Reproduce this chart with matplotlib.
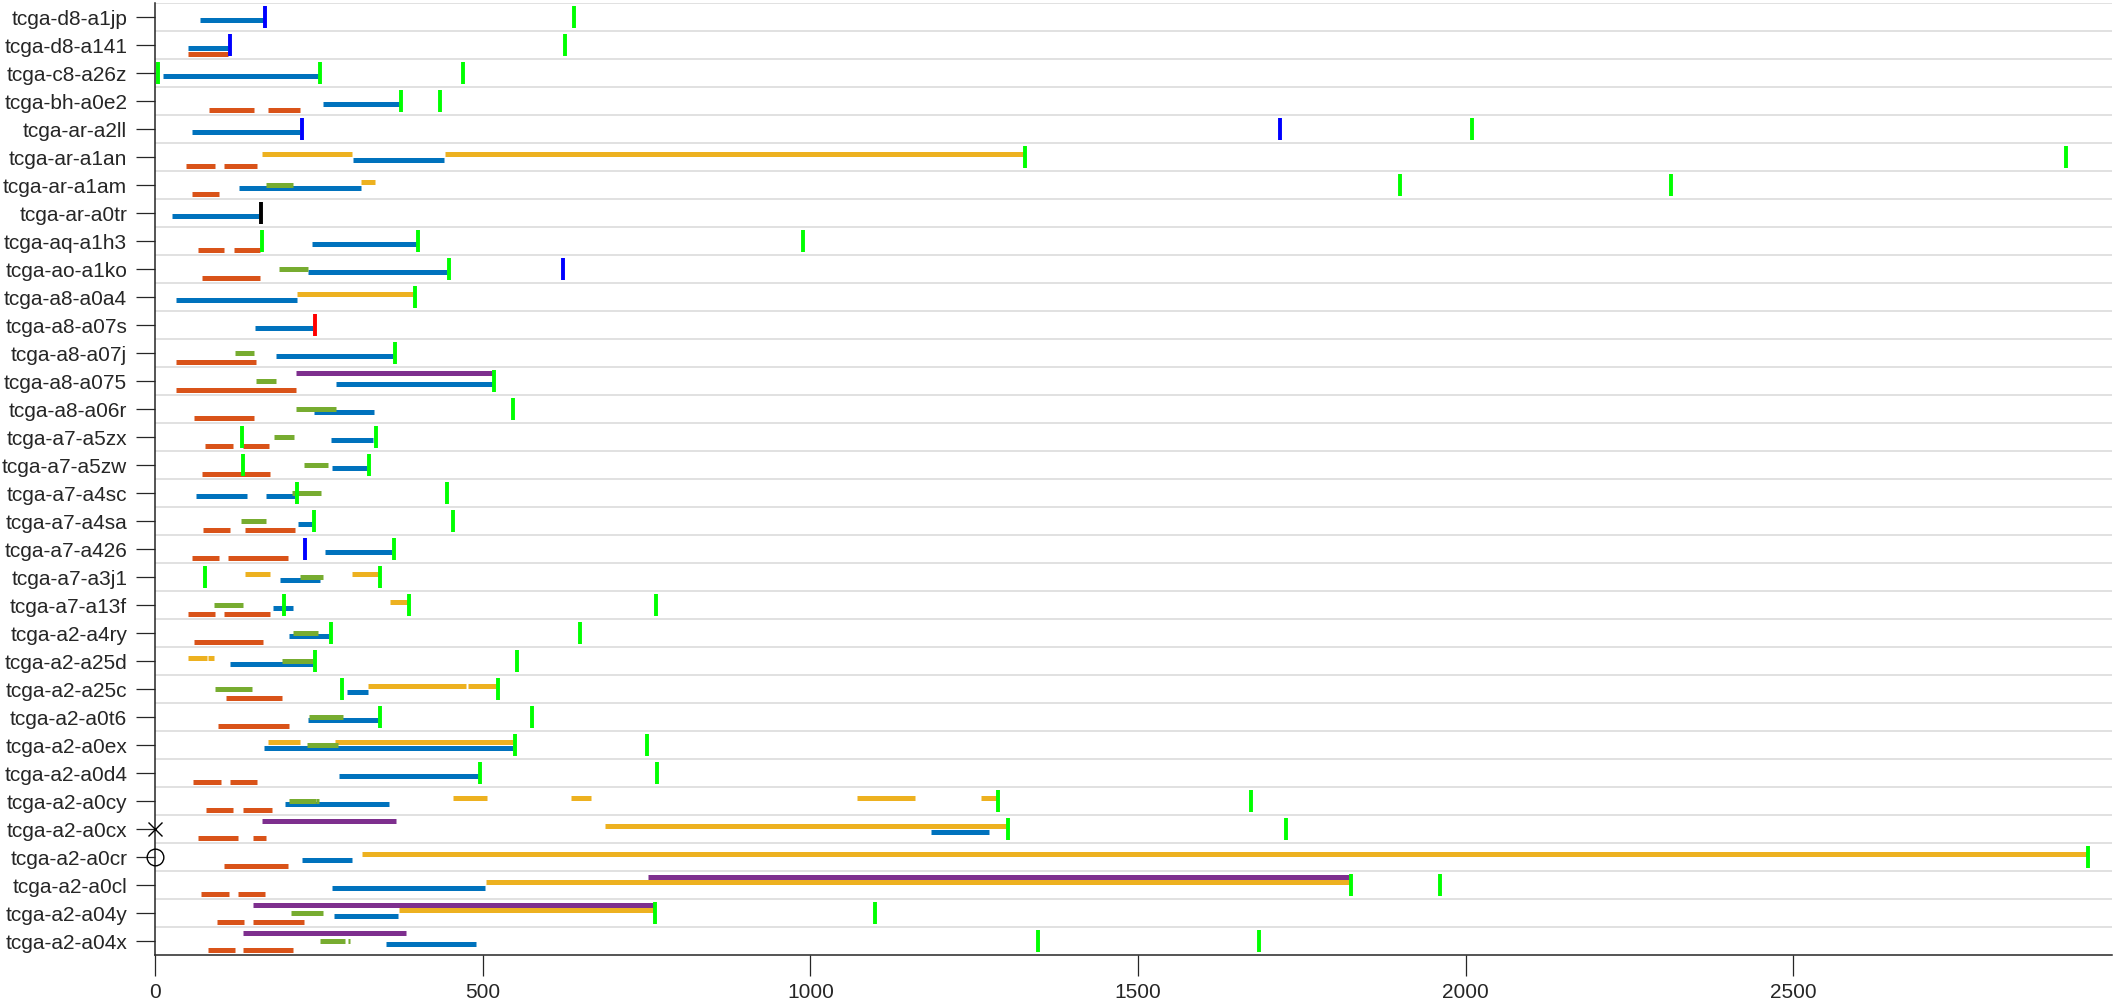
import matplotlib
matplotlib.use("Agg")
import matplotlib.pyplot as plt

plt.rcParams['font.family'] = ['Liberation Sans', 'DejaVu Sans']

# Пациенты сверху вниз
patients = [
    "tcga-d8-a1jp", "tcga-d8-a141", "tcga-c8-a26z", "tcga-bh-a0e2", "tcga-ar-a2ll",
    "tcga-ar-a1an", "tcga-ar-a1am", "tcga-ar-a0tr", "tcga-aq-a1h3", "tcga-ao-a1ko",
    "tcga-a8-a0a4", "tcga-a8-a07s", "tcga-a8-a07j", "tcga-a8-a075", "tcga-a8-a06r",
    "tcga-a7-a5zx", "tcga-a7-a5zw", "tcga-a7-a4sc", "tcga-a7-a4sa", "tcga-a7-a426",
    "tcga-a7-a3j1", "tcga-a7-a13f", "tcga-a2-a4ry", "tcga-a2-a25d", "tcga-a2-a25c",
    "tcga-a2-a0t6", "tcga-a2-a0ex", "tcga-a2-a0d4", "tcga-a2-a0cy", "tcga-a2-a0cx",
    "tcga-a2-a0cr", "tcga-a2-a0cl", "tcga-a2-a04y", "tcga-a2-a04x",
]

# интервалы (пациент, начало, конец)
seg_orange = [
    ("tcga-d8-a141", 51, 112), ("tcga-bh-a0e2", 82, 151), ("tcga-bh-a0e2", 173, 221),
    ("tcga-ar-a1an", 48, 91), ("tcga-ar-a1an", 106, 155), ("tcga-ar-a1am", 57, 97),
    ("tcga-aq-a1h3", 65, 106), ("tcga-aq-a1h3", 121, 160), ("tcga-ao-a1ko", 71, 160),
    ("tcga-a8-a07j", 32, 154), ("tcga-a8-a075", 32, 215), ("tcga-a8-a06r", 60, 151),
    ("tcga-a7-a5zx", 77, 119), ("tcga-a7-a5zx", 134, 174), ("tcga-a7-a5zw", 72, 176),
    ("tcga-a7-a4sa", 74, 115), ("tcga-a7-a4sa", 137, 213), ("tcga-a7-a426", 57, 97),
    ("tcga-a7-a426", 112, 203), ("tcga-a7-a13f", 51, 91), ("tcga-a7-a13f", 106, 175),
    ("tcga-a2-a4ry", 59, 165), ("tcga-a2-a25c", 109, 194), ("tcga-a2-a0t6", 96, 204),
    ("tcga-a2-a0d4", 58, 100), ("tcga-a2-a0d4", 114, 156), ("tcga-a2-a0cy", 78, 119),
    ("tcga-a2-a0cy", 134, 178), ("tcga-a2-a0cx", 65, 127), ("tcga-a2-a0cx", 149, 169),
    ("tcga-a2-a0cr", 106, 203), ("tcga-a2-a0cl", 70, 113), ("tcga-a2-a0cl", 127, 168),
    ("tcga-a2-a04y", 94, 136), ("tcga-a2-a04y", 150, 227), ("tcga-a2-a04x", 81, 122),
    ("tcga-a2-a04x", 134, 211),
]
seg_blue = [
    ("tcga-d8-a1jp", 69, 166), ("tcga-d8-a141", 51, 112), ("tcga-c8-a26z", 12, 250),
    ("tcga-bh-a0e2", 257, 374), ("tcga-ar-a2ll", 56, 222), ("tcga-ar-a1an", 302, 441),
    ("tcga-ar-a1am", 128, 314), ("tcga-ar-a0tr", 26, 158), ("tcga-aq-a1h3", 240, 400),
    ("tcga-ao-a1ko", 233, 446), ("tcga-a8-a0a4", 32, 216), ("tcga-a8-a07s", 152, 241),
    ("tcga-a8-a07j", 185, 363), ("tcga-a8-a075", 276, 516), ("tcga-a8-a06r", 243, 334),
    ("tcga-a7-a5zx", 269, 333), ("tcga-a7-a5zw", 270, 323), ("tcga-a7-a4sc", 62, 140),
    ("tcga-a7-a4sc", 170, 213), ("tcga-a7-a4sa", 218, 240), ("tcga-a7-a426", 259, 362),
    ("tcga-a7-a3j1", 190, 251), ("tcga-a7-a13f", 180, 211), ("tcga-a2-a4ry", 204, 265),
    ("tcga-a2-a25d", 114, 241), ("tcga-a2-a25c", 293, 325), ("tcga-a2-a0t6", 234, 341),
    ("tcga-a2-a0ex", 166, 547), ("tcga-a2-a0d4", 280, 494), ("tcga-a2-a0cy", 198, 357),
    ("tcga-a2-a0cx", 1184, 1272), ("tcga-a2-a0cr", 225, 300), ("tcga-a2-a0cl", 270, 504),
    ("tcga-a2-a04y", 273, 371), ("tcga-a2-a04x", 353, 490),
]
seg_yellow = [
    ("tcga-ar-a1an", 163, 300), ("tcga-ar-a1an", 443, 1328), ("tcga-ar-a1am", 315, 336),
    ("tcga-a8-a0a4", 216, 394), ("tcga-a7-a3j1", 138, 175), ("tcga-a7-a3j1", 301, 340),
    ("tcga-a7-a13f", 358, 386), ("tcga-a2-a25d", 51, 79), ("tcga-a2-a25d", 81, 90),
    ("tcga-a2-a25c", 325, 475), ("tcga-a2-a25c", 477, 520), ("tcga-a2-a0ex", 173, 222),
    ("tcga-a2-a0ex", 274, 547), ("tcga-a2-a0cy", 455, 507), ("tcga-a2-a0cy", 635, 665),
    ("tcga-a2-a0cy", 1071, 1160), ("tcga-a2-a0cy", 1261, 1284), ("tcga-a2-a0cx", 686, 1299),
    ("tcga-a2-a0cr", 316, 2949), ("tcga-a2-a0cl", 505, 1824), ("tcga-a2-a04y", 372, 761),
]
seg_purple = [
    ("tcga-a8-a075", 215, 516), ("tcga-a2-a0cx", 163, 368), ("tcga-a2-a0cl", 752, 1824),
    ("tcga-a2-a04y", 150, 761), ("tcga-a2-a04x", 134, 383),
]
seg_green = [
    ("tcga-ar-a1am", 170, 211), ("tcga-ao-a1ko", 189, 233), ("tcga-a8-a07j", 122, 151),
    ("tcga-a8-a075", 154, 185), ("tcga-a8-a06r", 215, 276), ("tcga-a7-a5zx", 182, 212),
    ("tcga-a7-a5zw", 228, 264), ("tcga-a7-a4sc", 209, 253), ("tcga-a7-a4sa", 131, 169),
    ("tcga-a7-a3j1", 221, 257), ("tcga-a7-a13f", 90, 134), ("tcga-a2-a4ry", 211, 248),
    ("tcga-a2-a25d", 194, 241), ("tcga-a2-a25c", 91, 148), ("tcga-a2-a0t6", 235, 287),
    ("tcga-a2-a0ex", 232, 279), ("tcga-a2-a0cy", 204, 245), ("tcga-a2-a0cy", 246, 250),
    ("tcga-a2-a04y", 207, 256), ("tcga-a2-a04x", 252, 290), ("tcga-a2-a04x", 294, 297),
]

# вертикальные отметки (пациент, день)
mark_lime = [
    ("tcga-d8-a1jp", 639), ("tcga-d8-a141", 626), ("tcga-c8-a26z", 5), ("tcga-c8-a26z", 252),
    ("tcga-c8-a26z", 470), ("tcga-bh-a0e2", 376), ("tcga-bh-a0e2", 435), ("tcga-ar-a2ll", 2009),
    ("tcga-ar-a1an", 1328), ("tcga-ar-a1an", 2916), ("tcga-ar-a1am", 1900), ("tcga-ar-a1am", 2313),
    ("tcga-aq-a1h3", 163), ("tcga-aq-a1h3", 402), ("tcga-aq-a1h3", 988), ("tcga-ao-a1ko", 448),
    ("tcga-a8-a0a4", 397), ("tcga-a8-a07j", 366), ("tcga-a8-a075", 518), ("tcga-a8-a06r", 547),
    ("tcga-a7-a5zx", 132), ("tcga-a7-a5zx", 337), ("tcga-a7-a5zw", 135), ("tcga-a7-a5zw", 326),
    ("tcga-a7-a4sc", 216), ("tcga-a7-a4sc", 446), ("tcga-a7-a4sa", 242), ("tcga-a7-a4sa", 454),
    ("tcga-a7-a426", 364), ("tcga-a7-a3j1", 76), ("tcga-a7-a3j1", 343), ("tcga-a7-a13f", 197),
    ("tcga-a7-a13f", 387), ("tcga-a7-a13f", 765), ("tcga-a2-a4ry", 269), ("tcga-a2-a4ry", 648),
    ("tcga-a2-a25d", 244), ("tcga-a2-a25d", 552), ("tcga-a2-a25c", 285), ("tcga-a2-a25c", 523),
    ("tcga-a2-a0t6", 344), ("tcga-a2-a0t6", 575), ("tcga-a2-a0ex", 550), ("tcga-a2-a0ex", 751),
    ("tcga-a2-a0d4", 496), ("tcga-a2-a0d4", 766), ("tcga-a2-a0cy", 1287), ("tcga-a2-a0cy", 1672),
    ("tcga-a2-a0cx", 1302), ("tcga-a2-a0cx", 1726), ("tcga-a2-a0cr", 2950), ("tcga-a2-a0cl", 1825),
    ("tcga-a2-a0cl", 1961), ("tcga-a2-a04y", 763), ("tcga-a2-a04y", 1098), ("tcga-a2-a04x", 1348),
    ("tcga-a2-a04x", 1685),
]
mark_blue = [
    ("tcga-d8-a1jp", 168), ("tcga-d8-a141", 114), ("tcga-ar-a2ll", 224), ("tcga-ar-a2ll", 1717),
    ("tcga-ao-a1ko", 622), ("tcga-a7-a426", 229),
]
mark_red = [("tcga-a8-a07s", 244)]
mark_black = [("tcga-ar-a0tr", 161)]
mark_x = ["tcga-a2-a0cx"]
mark_o = ["tcga-a2-a0cr"]

xticks = [0, 500, 1000, 1500, 2000, 2500]
x_max = 2986

row = {p: i + 1 for i, p in enumerate(patients)}

fig = plt.figure(figsize=(21.15, 10.08), dpi=100)
ax = fig.add_axes([155 / 2115, 1 - 955.3 / 1008, (2112 - 155) / 2115, (955.3 - 3.3) / 1008])

# линии-разделители строк
ax.hlines([i + 0.5 for i in range(len(patients))], 0, x_max, colors='#dcdcdc', lw=1.2, zorder=0)

def draw_segs(segs, color, dy):
    lc = ax.hlines([row[p] + dy for p, _, _ in segs], [s for _, s, _ in segs],
                   [e for _, _, e in segs], colors=color, lw=3.6, zorder=2)
    lc.set_capstyle('butt')

draw_segs(seg_orange, '#D95319', 0.3)
draw_segs(seg_blue, '#0072BD', 0.1)
draw_segs(seg_yellow, '#EDB120', -0.1)
draw_segs(seg_purple, '#7E2F8E', -0.3)
draw_segs(seg_green, '#77AC30', 0.0)

def draw_marks(marks, color):
    ys = [row[p] for p, _ in marks]
    lc = ax.vlines([d for _, d in marks], [y - 0.4 for y in ys], [y + 0.4 for y in ys],
                   colors=color, lw=2.8, zorder=3)
    lc.set_capstyle('butt')

draw_marks(mark_lime, '#00FF00')
draw_marks(mark_blue, '#0000FF')
draw_marks(mark_red, '#FF0000')
draw_marks(mark_black, '#000000')

for p in mark_x:
    ax.plot(0, row[p], 'x', ms=10, mew=1.0, color='k', clip_on=False, zorder=5)
for p in mark_o:
    ax.plot(0, row[p], 'o', ms=12, mew=1.0, mfc='none', color='k', clip_on=False, zorder=5)

ax.set_xlim(0, x_max)
ax.set_ylim(len(patients) + 0.5, 0.5)
ax.set_yticks(range(1, len(patients) + 1))
ax.set_yticklabels(patients)
ax.set_xticks(xticks)
ax.set_xticklabels([str(t) for t in xticks])

for s in ['top', 'right']:
    ax.spines[s].set_visible(False)
for s in ['left', 'bottom']:
    ax.spines[s].set_color('#262626')
    ax.spines[s].set_linewidth(1.1)
ax.tick_params(axis='y', direction='out', length=14, width=0.9, pad=6, labelsize=15,
               colors='#262626')
ax.tick_params(axis='x', direction='out', length=15, width=0.9, pad=5, labelsize=15,
               colors='#262626')

fig.savefig("out.png", dpi=100)
